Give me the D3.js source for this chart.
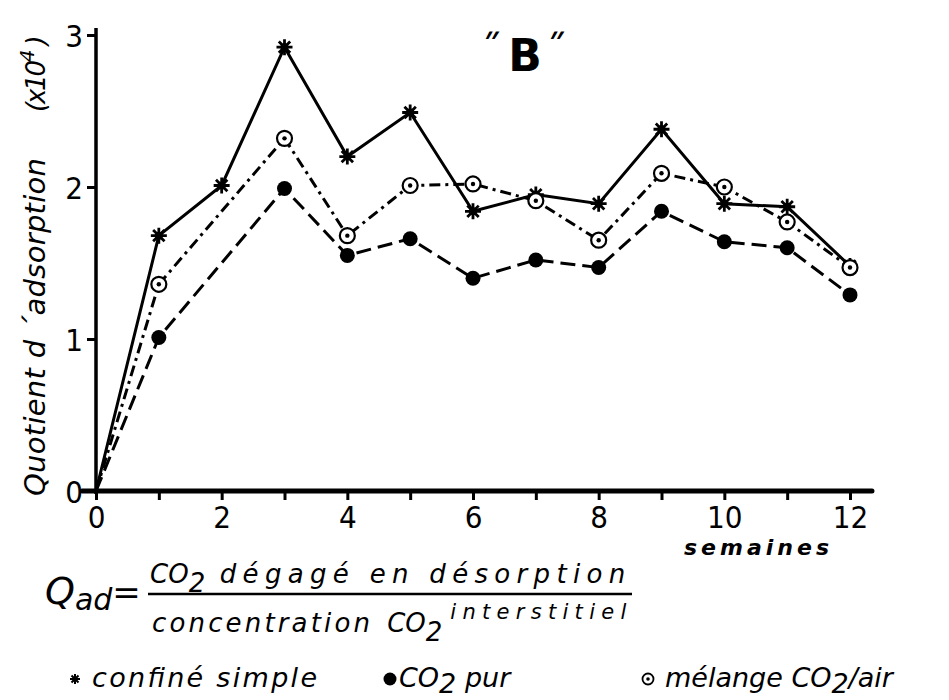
<!DOCTYPE html>
<html>
<head>
<meta charset="utf-8">
<script src="https://cdn.jsdelivr.net/npm/d3@7"></script>
<style>
  body { margin: 0; background: #fff; }
  svg { display: block; }
  .num { font-family: "DejaVu Sans Condensed", "DejaVu Sans", sans-serif; font-stretch: condensed; fill: #000; }
  .lab { font-family: "DejaVu Sans", sans-serif; font-style: italic; fill: #000; }
</style>
</head>
<body>
<svg id="chart" width="949" height="700"></svg>
<script>
// semaines
const weeks = [0, 1, 2, 3, 4, 5, 6, 7, 8, 9, 10, 11, 12]
// Quotient d'adsorption (x10^4), null = pas de mesure
const confineSimple = [0, 1.68, 2.01, 2.92, 2.20, 2.49, 1.84, 1.95, 1.89, 2.38, 1.89, 1.87, 1.48]
const co2Pur = [0, 1.01, null, 1.99, 1.55, 1.66, 1.40, 1.52, 1.47, 1.84, 1.64, 1.60, 1.29]
const melange = [0, 1.36, null, 2.32, 1.68, 2.01, 2.02, 1.91, 1.65, 2.09, 2.00, 1.77, 1.47]
const yTicks = [0, 1, 2, 3]
const xTicks = weeks

const svg = d3.select("#chart")
const x = d3.scaleLinear().domain([0, 12]).range([96, 850])
const y = d3.scaleLinear().domain([0, 3]).range([491, 35])

// axes
const yAxis = d3.axisLeft(y).tickValues(yTicks).tickSize(9).tickPadding(4).tickFormat(d3.format("d"))
const gy = svg.append("g").attr("transform", "translate(" + x(0) + ",0)").call(yAxis)
gy.select(".domain").remove()
gy.selectAll(".tick line").attr("stroke", "#000").attr("stroke-width", 3)
gy.selectAll(".tick text").attr("class", "num").attr("font-size", 31).attr("dy", "0.36em")

const xAxis = d3.axisBottom(x).tickValues(xTicks).tickSize(9).tickPadding(6)
    .tickFormat(function (d) { return d % 2 === 0 ? d : "" })
const gx = svg.append("g").attr("transform", "translate(0," + y(0) + ")").call(xAxis)
gx.select(".domain").remove()
gx.selectAll(".tick line").attr("stroke", "#000").attr("stroke-width", 3)
gx.selectAll(".tick text").attr("class", "num").attr("font-size", 31)

svg.append("line")
    .attr("x1", x(0)).attr("x2", x(0)).attr("y1", y(0) + 3).attr("y2", y(3) - 7)
    .attr("stroke", "#000").attr("stroke-width", 3.5)
svg.append("line")
    .attr("x1", x(-0.22)).attr("x2", x(12.35)).attr("y1", y(0)).attr("y2", y(0))
    .attr("stroke", "#000").attr("stroke-width", 5).attr("stroke-linecap", "round")

// series
const series = [
    { name: "confine", values: confineSimple, dash: null, marker: "star" },
    { name: "melange", values: melange, dash: "11,5,3,5", marker: "ring" },
    { name: "pur", values: co2Pur, dash: "15,7", marker: "dot" }
]

const line = d3.line().x(function (d) { return x(d[0]) }).y(function (d) { return y(d[1]) })

series.forEach(function (s) {
    const pts = weeks.map(function (w, i) { return [w, s.values[i]] }).filter(function (d) { return d[1] != null })
    svg.append("path")
        .datum(pts)
        .attr("fill", "none")
        .attr("stroke", "#000")
        .attr("stroke-width", 3)
        .attr("stroke-dasharray", s.dash)
        .attr("d", line)

    const m = svg.append("g").selectAll("g")
        .data(pts.filter(function (d) { return d[0] > 0 }))
        .enter()
        .append("g")
        .attr("transform", function (d) { return "translate(" + x(d[0]) + "," + y(d[1]) + ")" })

    if (s.marker == "star") {
        m.append("path")
            .attr("d", "M-8,0L8,0M0,-8L0,8M-5.7,-5.7L5.7,5.7M-5.7,5.7L5.7,-5.7")
            .attr("stroke", "#000").attr("stroke-width", 2.8)
        m.append("circle").attr("r", 4).attr("fill", "#000")
    } else if (s.marker == "dot") {
        m.append("circle").attr("r", 7.5).attr("fill", "#000")
    } else {
        m.append("circle").attr("r", 7.5).attr("fill", "#fff").attr("stroke", "#000").attr("stroke-width", 2.2)
        m.append("circle").attr("r", 2.2).attr("fill", "#000")
    }
})

// title
svg.append("text").attr("x", 525).attr("y", 71).attr("text-anchor", "middle")
    .attr("font-family", "DejaVu Sans, sans-serif").attr("font-weight", "bold").attr("font-size", 44)
    .text("B")
svg.append("text").attr("x", 491).attr("y", 64).attr("text-anchor", "middle")
    .attr("font-family", "DejaVu Sans, sans-serif").attr("font-size", 40).text("\u02DD")
svg.append("text").attr("x", 556).attr("y", 64).attr("text-anchor", "middle")
    .attr("font-family", "DejaVu Sans, sans-serif").attr("font-size", 40).text("\u02DD")

// y label
svg.append("text").attr("class", "lab")
    .attr("transform", "translate(45,496) rotate(-90)")
    .attr("font-size", 29).attr("textLength", 338).attr("lengthAdjust", "spacing")
    .text("Quotient d \u00B4adsorption")
const yl2 = svg.append("text").attr("class", "lab")
    .attr("transform", "translate(45,112) rotate(-90)")
    .attr("font-size", 26)
yl2.append("tspan").attr("textLength", 52).attr("lengthAdjust", "spacing").text("(x10")
yl2.append("tspan").attr("dy", -11).attr("font-size", 20).text("4")
yl2.append("tspan").attr("dx", 4).attr("dy", 11).text(")")

// x label
svg.append("text").attr("class", "lab")
    .attr("x", 684).attr("y", 555).attr("font-size", 22).attr("font-weight", "bold")
    .attr("textLength", 145).attr("lengthAdjust", "spacing")
    .text("semaines")

// formule
const q = svg.append("text").attr("class", "lab").attr("x", 45).attr("y", 604).attr("font-size", 38)
q.append("tspan").text("Q")
q.append("tspan").attr("dy", 6).attr("font-size", 30).text("ad")
q.append("tspan").attr("dy", -6).attr("font-size", 34).text("=")

const num = svg.append("text").attr("class", "lab").attr("x", 150).attr("y", 583).attr("font-size", 26)
num.append("tspan").text("CO")
num.append("tspan").attr("dy", 9).text("2")
num.append("tspan").attr("dy", -9).attr("textLength", 420).attr("lengthAdjust", "spacing")
    .text(" dégagé  en  désorption")
svg.append("line").attr("x1", 148).attr("x2", 632).attr("y1", 594).attr("y2", 594)
    .attr("stroke", "#000").attr("stroke-width", 2.5)

const den = svg.append("text").attr("class", "lab").attr("x", 152).attr("y", 632).attr("font-size", 26)
den.append("tspan").attr("textLength", 218).attr("lengthAdjust", "spacing").text("concentration")
den.append("tspan").attr("dx", 14).text("CO")
den.append("tspan").attr("dy", 9).text("2")
den.append("tspan").attr("dx", 8).attr("dy", -22).attr("font-size", 21)
    .attr("textLength", 176).attr("lengthAdjust", "spacing").text("interstitiel")

// légende
const leg = [
    { marker: "star", x: 75, label: ["confiné  simple"] },
    { marker: "dot", x: 390, label: ["CO", "2", " pur"] },
    { marker: "ring", x: 648, label: ["mélange CO", "2", "/air"] }
]
const lg = svg.append("g").selectAll("g").data(leg).enter().append("g")
    .attr("transform", function (d) { return "translate(" + d.x + ",679)" })
lg.each(function (d) {
    const g = d3.select(this)
    if (d.marker == "star") {
        g.append("path").attr("d", "M-5,0L5,0M0,-5L0,5M-3.5,-3.5L3.5,3.5M-3.5,3.5L3.5,-3.5")
            .attr("stroke", "#000").attr("stroke-width", 2)
        g.append("circle").attr("r", 2.5).attr("fill", "#000")
    } else if (d.marker == "dot") {
        g.append("circle").attr("r", 6.5).attr("fill", "#000")
    } else {
        g.append("circle").attr("r", 5.5).attr("fill", "#fff").attr("stroke", "#000").attr("stroke-width", 1.8)
        g.append("circle").attr("r", 1.8).attr("fill", "#000")
    }
    const t = g.append("text").attr("class", "lab").attr("x", d.marker == "dot" ? 9 : 17).attr("y", 8).attr("font-size", 27)
    if (d.label.length == 1) {
        t.attr("textLength", 225).attr("lengthAdjust", "spacing").text(d.label[0])
    } else {
        t.append("tspan").text(d.label[0])
        t.append("tspan").attr("dy", 6).text(d.label[1])
        t.append("tspan").attr("dy", -6).text(d.label[2])
    }
})
</script>
</body>
</html>
